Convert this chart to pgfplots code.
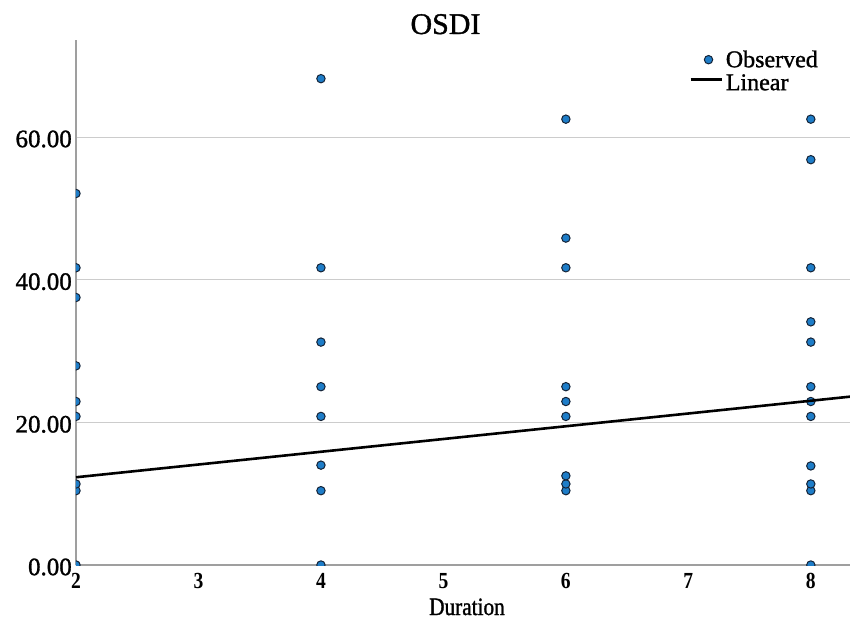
\documentclass[border=0pt]{standalone}
\usepackage{pgfplots}
\pgfplotsset{compat=1.18}
\usepackage{fontspec}
\setmainfont{Liberation Serif}
\newfontfamily\medfont[FakeBold=1.2]{Liberation Serif}
\newfontfamily\condfont[FakeStretch=0.85, FakeBold=1.2]{Liberation Serif}
\newfontfamily\condbold[FakeStretch=0.85]{Liberation Serif Bold}
\definecolor{ptfill}{RGB}{30,125,200}
\definecolor{ptedge}{RGB}{20,35,55}
\pgfplotsset{
  dotlegend/.style={legend image code/.code={\draw[##1] plot coordinates {(18pt,2pt)};}},
  linelegend/.style={legend image code/.code={\draw[##1] (0pt,5pt) -- (31pt,5pt);}},
}
\begin{document}
\begin{tikzpicture}
\path[use as bounding box] (-76pt,-57pt) rectangle (774pt,565pt);
\begin{axis}[
  at={(0pt,0pt)}, anchor=south west,
  scale only axis, width=774pt, height=525pt,
  xmin=2, xmax=8.32, ymin=0, ymax=73.6,
  axis x line*=bottom, axis y line*=left,
  axis line style={draw=gray!75, line width=1.2pt},
  xtick={2,3,4,5,6,7,8},
  ytick={0,20,40,60},
  major tick length=0pt,
  ymajorgrids, grid style={draw=gray!40, line width=1pt},
  clip marker paths=true,
  yticklabel={\pgfmathprintnumber[fixed, fixed zerofill, precision=2]{\tick}},
  /pgf/number format/assume math mode=true,
  yticklabel style={font=\medfont\fontsize{25}{28}\selectfont, inner sep=0pt, xshift=-4pt, yshift=-2pt},
  xticklabel style={font=\condbold\fontsize{23}{26}\selectfont, inner sep=0pt, yshift=-8pt},
  xlabel={Duration},
  xlabel style={font=\condfont\fontsize{25}{28}\selectfont, at={(axis description cs:0.5,0)}, anchor=base, inner sep=0pt, yshift=-50pt, xshift=4pt},
  title={OSDI},
  title style={font=\medfont\fontsize{30}{34}\selectfont, at={(axis description cs:0.5,1)}, anchor=base, inner sep=0pt, xshift=-17.5pt, yshift=0pt},
  legend style={at={(1,1)}, anchor=north east, draw=none, fill=none,
    font=\medfont\fontsize{24}{26}\selectfont, inner sep=0pt, row sep=0pt, column sep=3pt,
    xshift=-32pt, yshift=-10pt,
    nodes={inner sep=0pt, text height=17pt, text depth=6pt}},
  legend cell align=left,
]
\addplot[only marks, mark=*, mark size=4.2pt,
  mark options={fill=ptfill, draw=ptedge, line width=1pt}, dotlegend]
coordinates {
(2,0) (2,10.42) (2,11.36) (2,20.83) (2,22.92) (2,27.92) (2,37.5) (2,41.67) (2,52.08)
(4,0) (4,10.42) (4,14.0) (4,20.83) (4,25) (4,31.25) (4,41.67) (4,68.18)
(6,10.42) (6,11.36) (6,12.5) (6,20.83) (6,22.92) (6,25) (6,41.67) (6,45.83) (6,62.5)
(8,0) (8,10.42) (8,11.36) (8,13.89) (8,20.83) (8,22.92) (8,25) (8,31.25) (8,34.09) (8,41.67) (8,56.82) (8,62.5)
};
\addlegendentry{Observed}
\addplot[black, line width=2.6pt, linelegend]
coordinates {(2,12.3) (8.32,23.6)};
\addlegendentry{Linear}
\end{axis}
\end{tikzpicture}
\end{document}
